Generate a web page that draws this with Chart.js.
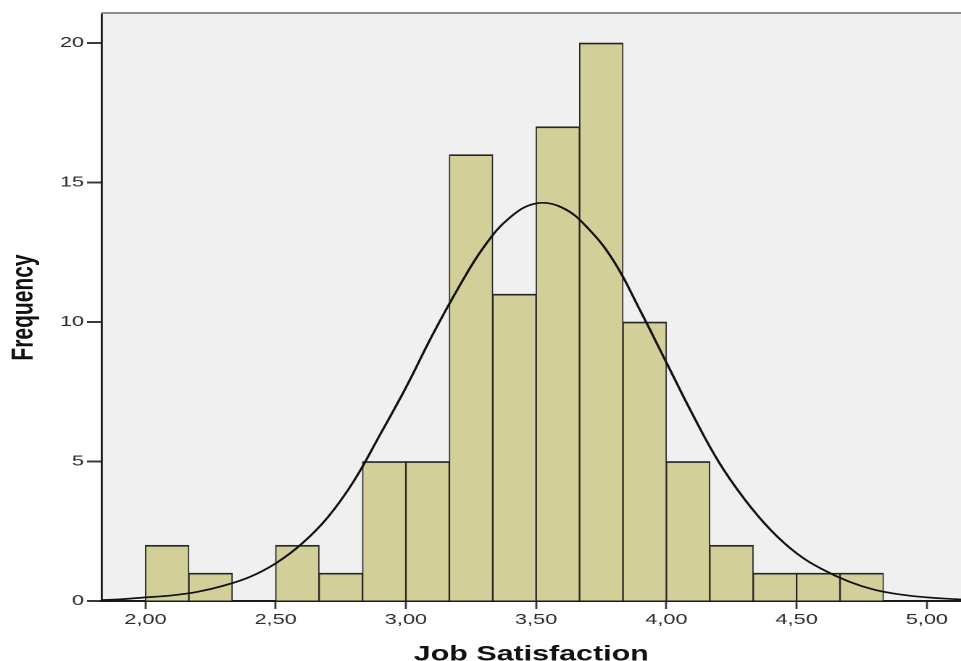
<!DOCTYPE html>
<html>
<head>
<meta charset="utf-8">
<script src="https://cdn.jsdelivr.net/npm/chart.js@4/dist/chart.umd.min.js"></script>
<style>
  html, body { margin: 0; padding: 0; background: #ffffff; overflow: hidden; }
  #wrap { width: 663px; height: 661px; transform: scaleX(1.4495); transform-origin: 0 0; }
</style>
</head>
<body>
<div id="wrap"><canvas id="c" width="663" height="661"></canvas></div>
<script>
// ---- data ----
const binCenters = [2.0833, 2.25, 2.4167, 2.5833, 2.75, 2.9167, 3.0833, 3.25, 3.4167, 3.5833, 3.75, 3.9167, 4.0833, 4.25, 4.4167, 4.5833, 4.75];
const frequencies = [2, 1, 0, 2, 1, 5, 5, 16, 11, 17, 20, 10, 5, 2, 1, 1, 1];

const curveX = [1.83, 1.90, 2.00, 2.10, 2.20, 2.30, 2.40, 2.50, 2.60, 2.70, 2.80, 2.90, 3.00, 3.10, 3.20, 3.30, 3.40, 3.50, 3.60, 3.70, 3.80, 3.90, 4.00, 4.10, 4.20, 4.30, 4.40, 4.50, 4.60, 4.70, 4.80, 4.90, 5.00, 5.10, 5.14];
const curveY = [0.03, 0.06, 0.13, 0.20, 0.33, 0.55, 0.86, 1.35, 2.05, 3.0, 4.3, 5.95, 7.65, 9.5, 11.2, 12.7, 13.75, 14.25, 14.1, 13.35, 12.15, 10.4, 8.55, 6.7, 5.0, 3.65, 2.55, 1.71, 1.13, 0.7, 0.4, 0.23, 0.13, 0.07, 0.05];

const xTickValues = [2.0, 2.5, 3.0, 3.5, 4.0, 4.5, 5.0];
const xTickLabels = ['2,00', '2,50', '3,00', '3,50', '4,00', '4,50', '5,00'];
const yTickValues = [0, 5, 10, 15, 20];
const yTickLabels = ['0', '5', '10', '15', '20'];

const xTitle = 'Job Satisfaction';
const yTitle = 'Frequency';

// ---- chart ----
const FONT = "'Liberation Sans', Arial, sans-serif";

const bgPlugin = {
  id: 'plotBg',
  beforeDraw(chart) {
    const { ctx, chartArea: a } = chart;
    ctx.save();
    ctx.fillStyle = '#f0f0f0';
    ctx.fillRect(a.left, a.top, a.right - a.left, a.bottom - a.top);
    ctx.strokeStyle = '#8c8c8c';
    ctx.lineWidth = 2;
    ctx.beginPath();
    ctx.moveTo(a.left, a.top - 1);
    ctx.lineTo(a.right, a.top - 1);
    ctx.stroke();
    ctx.restore();
  }
};

new Chart(document.getElementById('c'), {
  type: 'bar',
  data: {
    datasets: [
      {
        type: 'line',
        data: curveX.map((x, i) => ({ x: x, y: curveY[i] })),
        borderColor: '#111111',
        borderWidth: 1.7,
        pointRadius: 0,
        fill: false,
        tension: 0.4,
        order: 0
      },
      {
        type: 'bar',
        data: binCenters.map((x, i) => ({ x: x, y: frequencies[i] })),
        backgroundColor: '#d3cf98',
        borderColor: '#262626',
        borderWidth: { top: 1.7, left: 0.9, right: 0.9, bottom: 0 },
        borderSkipped: false,
        barPercentage: 1.0,
        categoryPercentage: 1.0,
        order: 1
      }
    ]
  },
  options: {
    responsive: false,
    animation: false,
    devicePixelRatio: 2,
    layout: { padding: { top: 14, left: 0, right: 0, bottom: 0 } },
    plugins: {
      legend: { display: false },
      tooltip: { enabled: false },
      title: { display: false }
    },
    scales: {
      x: {
        type: 'linear',
        min: 1.8312,
        max: 5.1312,
        offset: false,
        grid: { offset: false, drawOnChartArea: false, drawTicks: true, tickLength: 8, tickColor: '#3a3a3a', tickWidth: 1.4 },
        border: { display: true, color: '#1a1a1a', width: 2 },
        afterBuildTicks(scale) { scale.ticks = xTickValues.map(v => ({ value: v })); },
        afterFit(scale) { scale.height = 60; },
        ticks: {
          autoSkip: false,
          maxRotation: 0,
          padding: 2,
          color: '#2e2e2e',
          font: { family: FONT, size: 15 },
          callback: (v) => xTickLabels[xTickValues.indexOf(v)]
        },
        title: {
          display: true,
          text: xTitle,
          color: '#111111',
          padding: 0,
          font: { family: FONT, size: 21, weight: 'bold', lineHeight: '13px' }
        }
      },
      y: {
        type: 'linear',
        min: 0,
        max: 21.04,
        grid: { drawOnChartArea: false, drawTicks: true, tickLength: 10, tickColor: '#3a3a3a', tickWidth: 2 },
        border: { display: true, color: '#1a1a1a', width: 1.4 },
        afterBuildTicks(scale) { scale.ticks = yTickValues.map(v => ({ value: v })); },
        afterFit(scale) { scale.width = 70; },
        ticks: {
          padding: 2,
          color: '#2e2e2e',
          font: { family: FONT, size: 15 },
          callback: (v) => yTickLabels[yTickValues.indexOf(v)]
        },
        title: {
          display: true,
          text: yTitle,
          color: '#111111',
          padding: 0,
          font: { family: FONT, size: 21, weight: 'bold', lineHeight: '33px' }
        }
      }
    }
  },
  plugins: [bgPlugin]
});
</script>
</body>
</html>
